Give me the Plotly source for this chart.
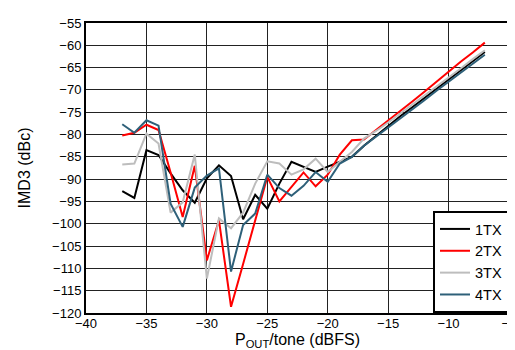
import plotly.graph_objects as go

x_dbfs = [-37, -36, -35, -34, -33, -32, -31, -30, -29, -28, -27, -26, -25, -24, -23, -22,
          -21, -20, -19, -18, -17, -16, -15, -14, -13, -12, -11, -10, -9, -8, -7]

imd_1tx = [-92.7, -94.2, -83.5, -84.6, -88.7, -92.5, -95.3, -89.8, -86.9, -89.3, -99.0, -93.5,
           -96.6, -91.0, -86.1, -87.3, -88.4, -87.2, -86.1, -85.0, -82.5, -80.3, -78.0, -75.9,
           -73.9, -71.8, -69.7, -67.6, -65.6, -63.5, -61.5]
imd_2tx = [-80.2, -79.6, -77.8, -79.0, -88.5, -98.5, -87.0, -108.2, -99.2, -118.6, -109.0, -99.5,
           -89.5, -95.0, -91.7, -88.5, -91.6, -89.0, -84.5, -81.3, -81.1, -79.0, -77.0, -74.8,
           -72.6, -70.4, -68.1, -65.9, -63.7, -61.6, -59.4]
imd_3tx = [-86.7, -86.5, -79.8, -82.0, -97.5, -95.2, -84.5, -112.3, -98.8, -101.0, -97.5, -91.0,
           -86.0, -86.5, -89.0, -87.8, -85.4, -88.4, -86.1, -83.9, -80.9, -79.2, -77.3, -75.3,
           -73.3, -71.2, -69.2, -67.2, -65.2, -63.1, -61.1]
imd_4tx = [-77.7, -79.6, -76.8, -78.0, -95.5, -100.7, -91.9, -89.2, -87.6, -110.7, -100.3, -97.7,
           -89.0, -92.0, -93.7, -91.5, -88.4, -90.6, -86.5, -85.0, -82.5, -80.5, -78.4, -76.4,
           -74.3, -72.3, -70.2, -68.2, -66.2, -64.1, -62.1]

series_names = ["1TX", "2TX", "3TX", "4TX"]
series_values = [imd_1tx, imd_2tx, imd_3tx, imd_4tx]
series_colors = ["#000000", "#FF0000", "#BDBDBD", "#2E6079"]

fig = go.Figure()
for name, vals, col in zip(series_names, series_values, series_colors):
    fig.add_trace(go.Scatter(x=x_dbfs, y=vals, mode="lines", name=name,
                             line=dict(color=col, width=2)))

font_family = "Liberation Sans, Arial, sans-serif"
fig.update_layout(
    width=515, height=350,
    margin=dict(l=78, r=7, t=15, b=45),
    paper_bgcolor="white", plot_bgcolor="white",
    font=dict(family=font_family, size=13, color="black"),
    showlegend=True,
    legend=dict(x=1, y=0, xanchor="right", yanchor="bottom",
                bordercolor="black", borderwidth=2, bgcolor="white",
                font=dict(size=14.5), tracegroupgap=0, itemwidth=30),
)
fig.update_xaxes(range=[-40, -5], tick0=-40, dtick=5, showgrid=True,
                 gridcolor="#222222", gridwidth=1, zeroline=False,
                 showline=True, linecolor="black", linewidth=2, mirror=True,
                 ticks="", ticklabelstandoff=-3,
                 title=dict(text="P<sub>OUT</sub>/tone (dBFS)", standoff=1))
fig.update_yaxes(range=[-120, -55], tick0=-120, dtick=5, showgrid=True,
                 gridcolor="#222222", gridwidth=1, zeroline=False,
                 showline=True, linecolor="black", linewidth=2, mirror=True,
                 ticks="", title=dict(text="IMD3 (dBc)", standoff=18))

fig.write_html("out.html")
